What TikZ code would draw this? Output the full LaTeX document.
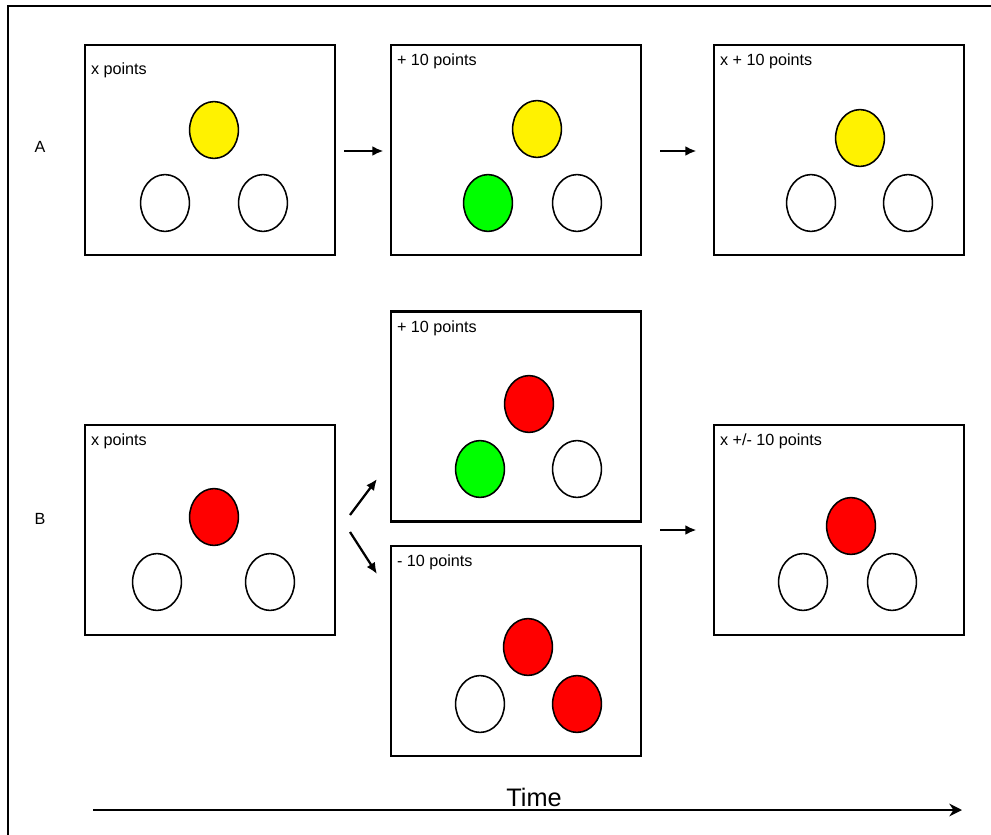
\documentclass[tikz,border=0pt]{standalone}
\usepackage{fontspec}
\setmainfont{Liberation Sans}
\usepackage{tikz}
\usepackage{xcolor}
\usetikzlibrary{arrows.meta,shapes.geometric}

\begin{document}
\begin{tikzpicture}[x=0.025cm,y=-0.025cm,
    panel/.style={draw, line width=2pt, minimum width=6.25cm, minimum height=5.25cm, inner sep=0pt},
    tag/.style={anchor=north west, inner sep=0pt, xshift=0.18cm, yshift=-0.26cm, font=\fontsize{11.5}{13}\selectfont},
    disc/.style={draw, ellipse, line width=1.1pt, minimum width=1.22cm, minimum height=1.42cm, inner sep=0pt},
    step arrow/.style={line width=2pt, -{Latex[length=8pt,width=7pt]}}]
                \useasboundingbox (0,0) rectangle (991,834);
                % outer frame
                \draw[line width=2pt] (8,840) -- (8,6) -- (995,6);
                % row labels
                \node (rowA) at (40,147) {\fontsize{11.5}{13}\selectfont A};
                \node (rowB) at (40,519) {\fontsize{11.5}{13}\selectfont B};
                % row A
                \node[panel] (a1) at (210,150) {};
                \node[tag, yshift=-0.22cm] at (a1.north west) {x points};
                \node[disc, fill=yellow] (a1t) at (214,130) {};
                \node[disc, fill=white] (a1l) at (165,203) {};
                \node[disc, fill=white] (a1r) at (263,203) {};
                \node[panel] (a2) at (516,150) {};
                \node[tag] at (a2.north west) {+ 10 points};
                \node[disc, fill=yellow] (a2t) at (537,129) {};
                \node[disc, fill=green] (a2l) at (488,203) {};
                \node[disc, fill=white] (a2r) at (577,203) {};
                \node[panel] (a3) at (839,150) {};
                \node[tag] at (a3.north west) {x + 10 points};
                \node[disc, fill=yellow] (a3t) at (860,138) {};
                \node[disc, fill=white] (a3l) at (811,203) {};
                \node[disc, fill=white] (a3r) at (908,203) {};
                \draw[step arrow, shorten <=0.2cm, shorten >=0.15cm] (a1.east |- 0,151) -- (a2.west |- 0,151);
                \draw[step arrow, shorten <=0.45cm, shorten >=0.4cm] (a2.east |- 0,151) -- (a3.west |- 0,151);
                % row B
                \node[panel] (b1) at (210,530) {};
                \node[tag] at (b1.north west) {x points};
                \node[disc, fill=red] (b1t) at (214,517) {};
                \node[disc, fill=white] (b1l) at (157,582) {};
                \node[disc, fill=white] (b1r) at (270,582) {};
                \node[panel] (b2u) at (516,416.5) {};
                \node[tag] at (b2u.north west) {+ 10 points};
                \node[disc, fill=red] (b2ut) at (529,404) {};
                \node[disc, fill=green] (b2ul) at (480,469) {};
                \node[disc, fill=white] (b2ur) at (577,469) {};
                \node[panel] (b2d) at (516,651) {};
                \node[tag] at (b2d.north west) {- 10 points};
                \node[disc, fill=red] (b2dt) at (528,647) {};
                \node[disc, fill=white] (b2dl) at (480,704) {};
                \node[disc, fill=red] (b2dr) at (577,704) {};
                \node[panel] (b3) at (839,530) {};
                \node[tag] at (b3.north west) {x +/- 10 points};
                \node[disc, fill=red] (b3t) at (851,526) {};
                \node[disc, fill=white] (b3l) at (803,582) {};
                \node[disc, fill=white] (b3r) at (892,582) {};
                \coordinate (forkup) at (350,515);
                \coordinate (forkdown) at (350,532);
                \coordinate (tipup) at (377,479);
                \coordinate (tipdown) at (377,574);
                \draw[step arrow, line width=1.6pt] (forkup) -- (tipup);
                \draw[step arrow, line width=1.6pt] (forkdown) -- (tipdown);
                \draw[step arrow, shorten <=0.45cm, shorten >=0.4cm] (b2u.east |- 0,530) -- (b3.west |- 0,530);
                % time axis
                \coordinate (t0) at (93,810);
                \coordinate (t1) at (962,810);
                \draw[line width=2pt, -{Stealth[length=9pt,width=9pt]}] (t0) -- (t1);
                \node (time) at (534,797) {\fontsize{18}{20}\selectfont Time};
            \end{tikzpicture}
\end{document}
